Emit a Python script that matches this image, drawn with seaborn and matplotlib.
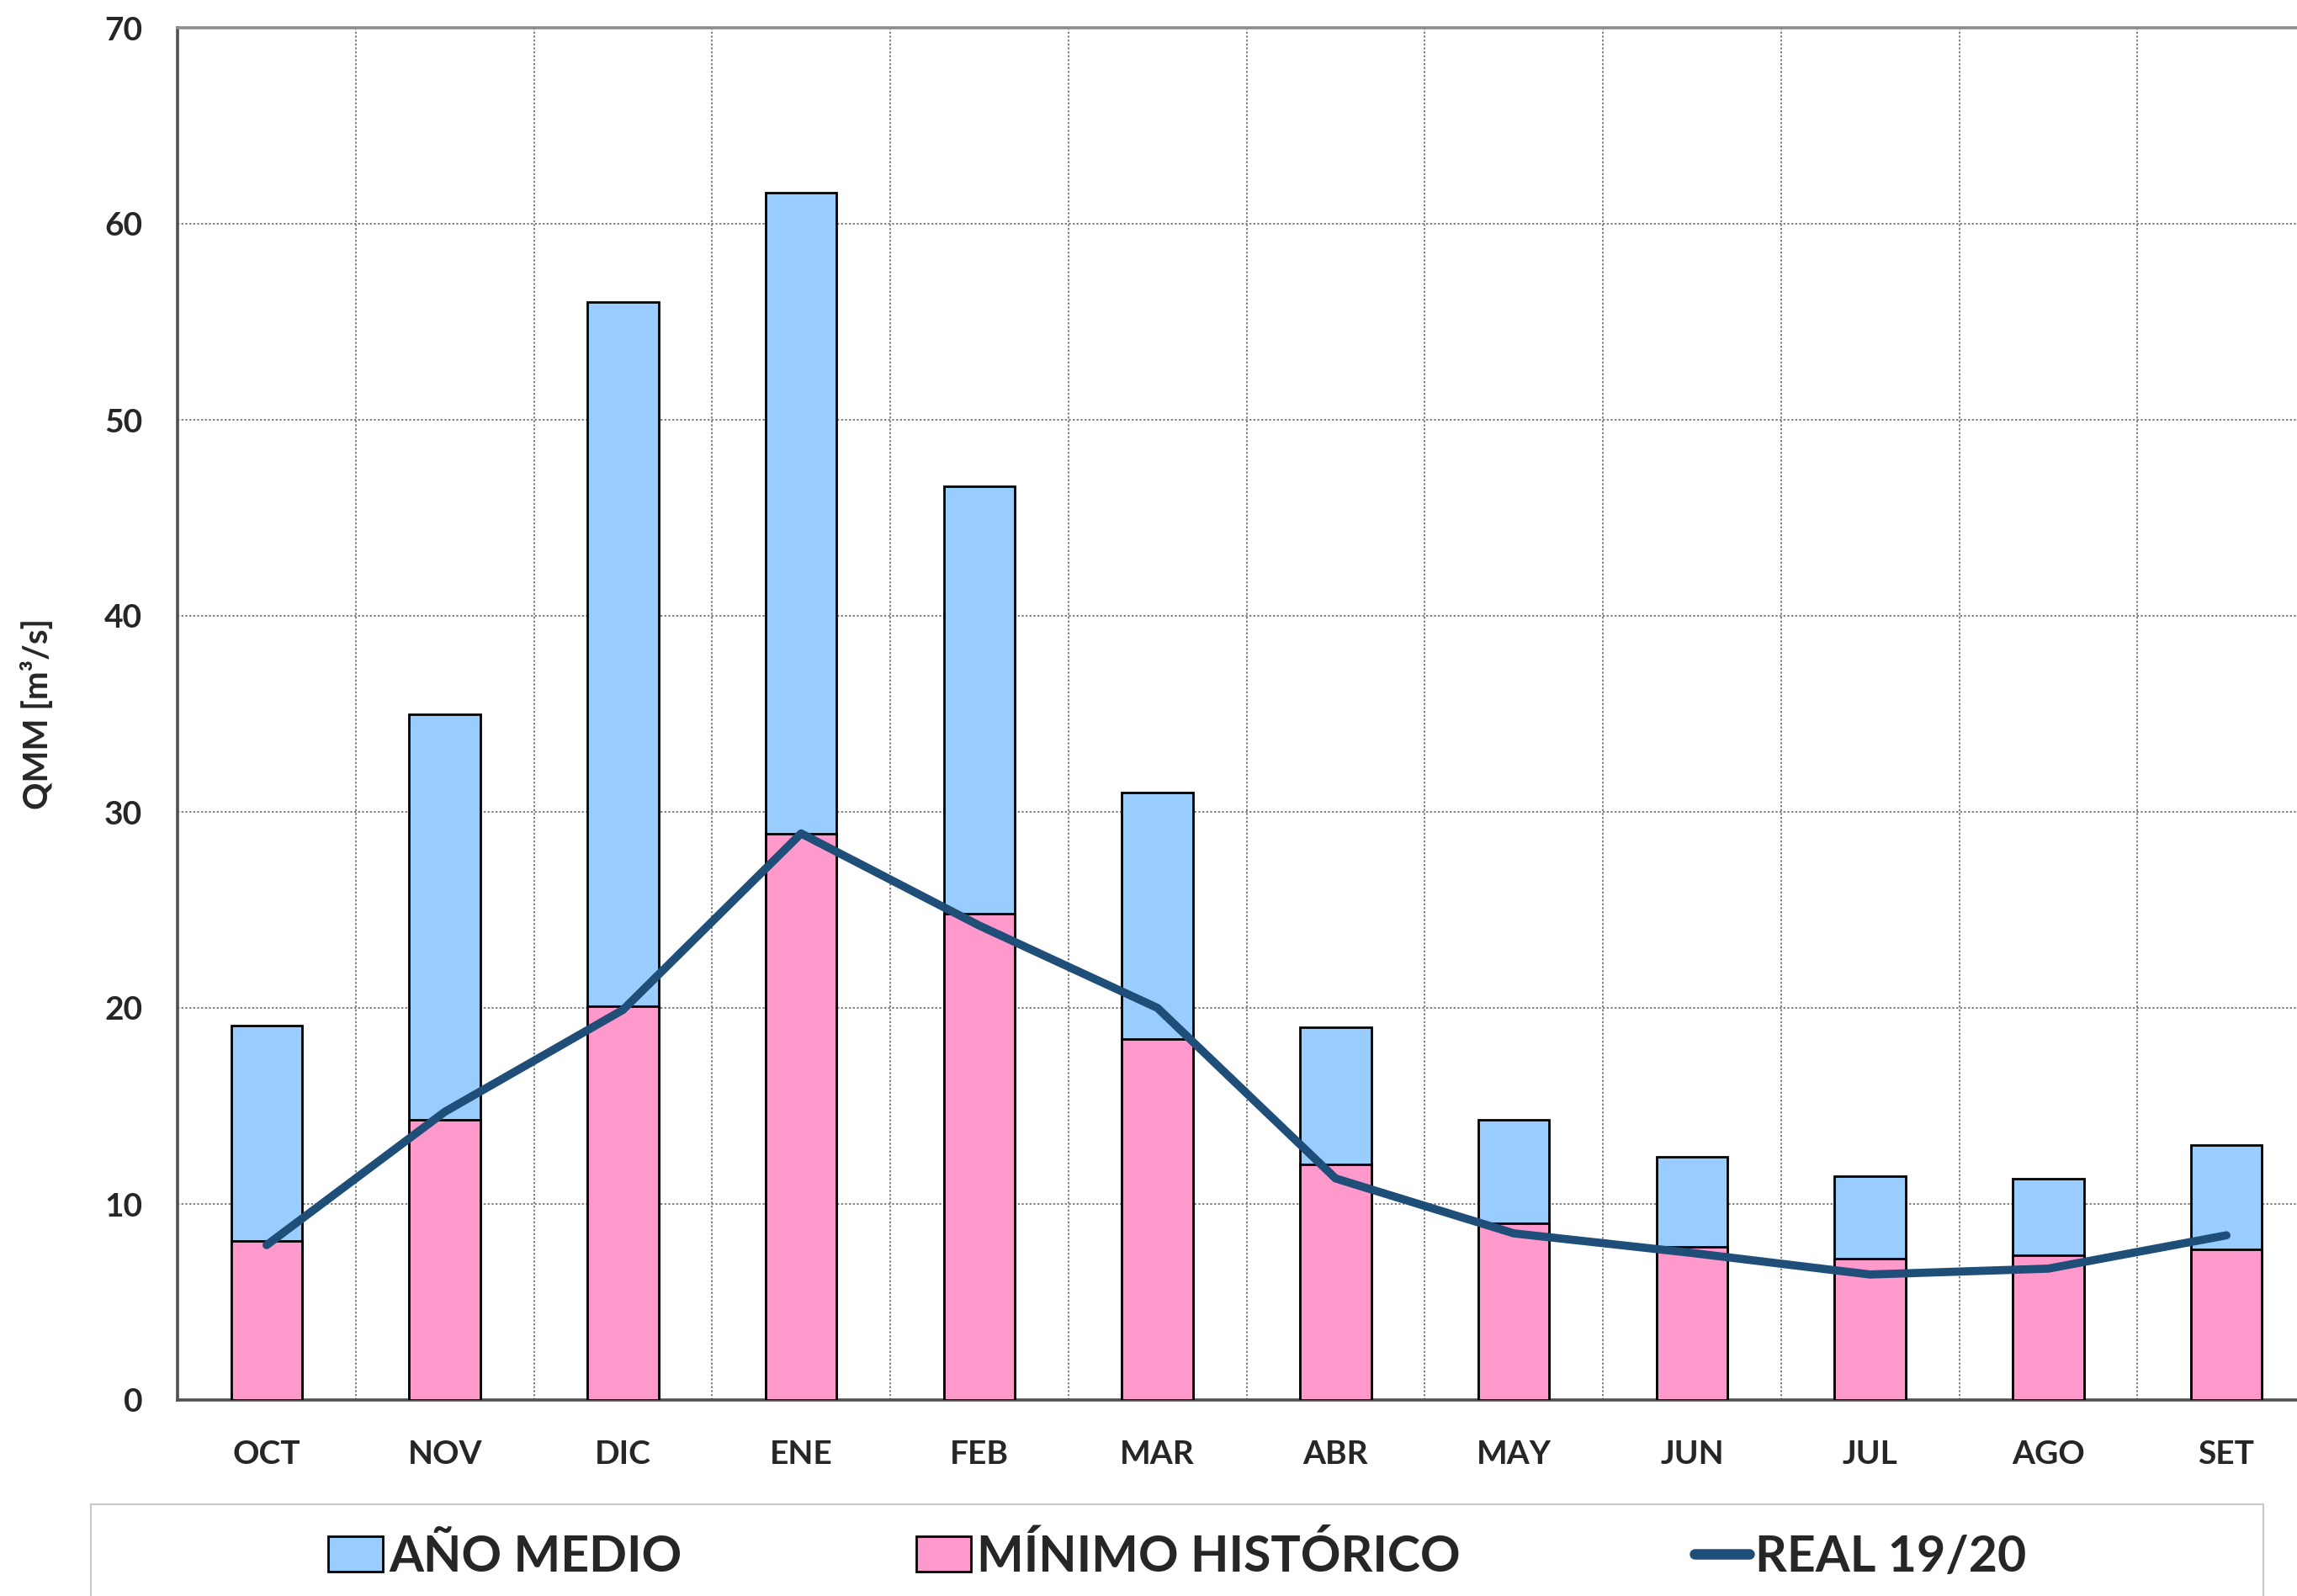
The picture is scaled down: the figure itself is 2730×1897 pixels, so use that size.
import matplotlib
matplotlib.use("Agg")
import matplotlib.pyplot as plt
import seaborn as sns
import numpy as np
from matplotlib.patches import Patch, Rectangle
from matplotlib.lines import Line2D
from matplotlib.ticker import FixedLocator, MultipleLocator

# Monthly mean discharge (m3/s), hydrological year Oct-Sep
months = ["OCT", "NOV", "DIC", "ENE", "FEB", "MAR", "ABR", "MAY", "JUN", "JUL", "AGO", "SET"]
ano_medio = [19.1, 35.0, 56.0, 61.6, 46.6, 31.0, 19.0, 14.3, 12.4, 11.4, 11.3, 13.0]
minimo_historico = [8.1, 14.3, 20.1, 28.9, 24.8, 18.4, 12.0, 9.0, 7.8, 7.2, 7.4, 7.7]
real_1920 = [7.9, 14.7, 19.9, 28.9, 24.2, 20.0, 11.3, 8.5, 7.5, 6.4, 6.7, 8.4]

legend_labels = ["AÑO MEDIO", "MÍNIMO HISTÓRICO", "REAL 19/20"]

BLUE = "#99CCFF"
PINK = "#FF99CC"
LINE = "#1F4E79"

sns.set_style("white")
plt.rcParams["font.family"] = ["Lato", "DejaVu Sans"]
plt.rcParams["font.weight"] = "bold"

W, H = 2730, 1897
fig = plt.figure(figsize=(W / 100, H / 100), dpi=100)
ax_left, ax_right, ax_top, ax_bottom = 211, 2752, 33, 1664
ax = fig.add_axes([ax_left / W, 1 - ax_bottom / H,
                   (ax_right - ax_left) / W, (ax_bottom - ax_top) / H])

sns.barplot(x=months, y=ano_medio, color=BLUE, width=0.4, edgecolor="black",
            linewidth=2.0, saturation=1, errorbar=None, ax=ax, zorder=2)
sns.barplot(x=months, y=minimo_historico, color=PINK, width=0.4, edgecolor="black",
            linewidth=2.0, saturation=1, errorbar=None, ax=ax, zorder=3)
sns.pointplot(x=months, y=real_1920, color=LINE, markers="", errorbar=None,
              linewidth=7, ax=ax, zorder=4)
for ln in ax.lines:
    ln.set_solid_capstyle("round")
    ln.set_solid_joinstyle("round")

ax.set_xlim(-0.5, 11.5)
ax.set_ylim(0, 70)
ax.yaxis.set_major_locator(MultipleLocator(10))
ax.xaxis.set_minor_locator(FixedLocator(np.arange(-0.5, 12, 1.0)))

ax.set_axisbelow(True)
ax.grid(True, which="major", axis="y", color="#7f7f7f", linestyle=(0, (1.2, 1.2)), linewidth=1.4)
ax.grid(True, which="minor", axis="x", color="#7f7f7f", linestyle=(0, (1.2, 1.2)), linewidth=1.4)
ax.grid(False, which="major", axis="x")

ax.tick_params(axis="x", which="major", length=0, pad=34, labelsize=28)
ax.tick_params(axis="x", which="minor", length=11, width=1.3, color="#404040", direction="out")
ax.tick_params(axis="y", which="major", length=10, width=1.6, color="#404040", pad=20,
               labelsize=28, direction="out")
for lab in ax.get_xticklabels() + ax.get_yticklabels():
    lab.set_fontweight("bold")

for side in ["left", "bottom"]:
    ax.spines[side].set_color("#505050")
    ax.spines[side].set_linewidth(2.6)
ax.spines["top"].set_color("#8c8c8c")
ax.spines["top"].set_linewidth(2.6)
ax.spines["right"].set_visible(False)

ax.set_xlabel("")
ax.set_ylabel("QMM [m³/s]", fontsize=29, fontweight="bold")
ax.yaxis.set_label_coords(-0.058, 0.5)

# legend frame and entries below the plot
fig.patches.append(Rectangle((108 / W, -0.02), (2690 - 108) / W, (1 - 1788 / H) + 0.02,
                             transform=fig.transFigure, facecolor="white",
                             edgecolor="#c8c8c8", linewidth=1.5, zorder=0))
handles = [Patch(facecolor=BLUE, edgecolor="black", linewidth=2.0),
           Patch(facecolor=PINK, edgecolor="black", linewidth=2.0),
           Line2D([], [], color=LINE, linewidth=9, solid_capstyle="round")]
fig.legend(handles, legend_labels, loc="center left", ncol=3,
           bbox_to_anchor=(390 / W, 1 - 1850 / H), frameon=False,
           borderaxespad=0, borderpad=0, handlelength=1.1, handleheight=0.72,
           handletextpad=0.12, columnspacing=4.72,
           prop={"family": ["Lato", "DejaVu Sans"], "weight": "bold", "size": 42.5})

fig.savefig("out.png", dpi=100)
